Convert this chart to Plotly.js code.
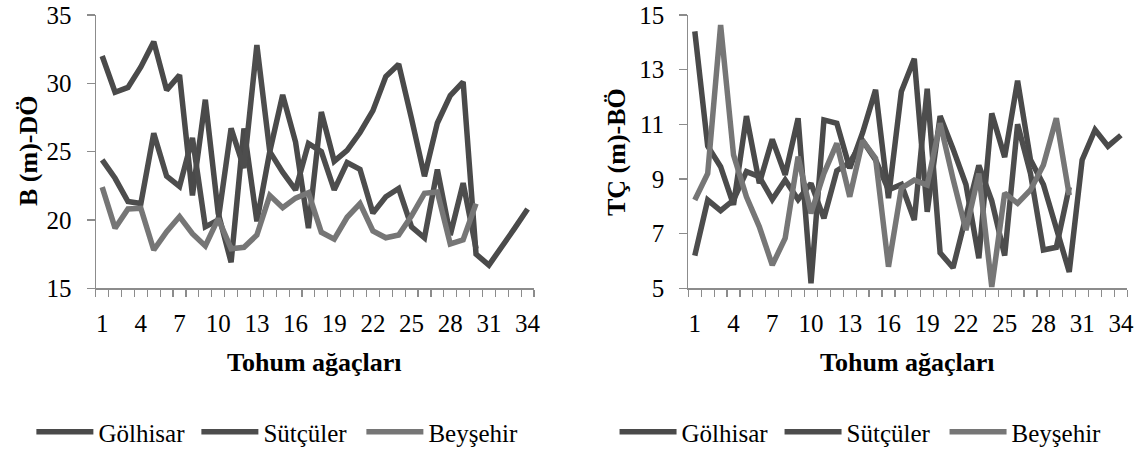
<!DOCTYPE html>
<html><head><meta charset="utf-8">
<script src="https://cdn.plot.ly/plotly-3.0.1.min.js"></script>
<style>html,body{margin:0;padding:0;background:#fff}#chart{width:1137px;height:450px}</style>
</head><body><div id="chart"></div>
<script>
const trees = [1,2,3,4,5,6,7,8,9,10,11,12,13,14,15,16,17,18,19,20,21,22,23,24,25,26,27,28,29,30,31,32,33,34];
const xTicks = [1,4,7,10,13,16,19,22,25,28,31,34];
const seriesNames = ["Gölhisar","Sütçüler","Beyşehir"];
const xTitle = "Tohum ağaçları";
const yTitles = ["B (m)-DÖ", "TÇ (m)-BÖ"];

const golhisarBD = [32,29.35,29.7,31.2,33.05,29.5,30.6,21.8,28.8,20.5,16.9,26.7,19.9,25.0,29.15,25.7,19.4,27.9,24.3,25.1,26.4,28.0,30.5,31.4,27.4,23.2,27.1,29.1,30.1,17.5,16.7,18.0,19.4,20.8];
const sutculerBD = [24.4,23.05,21.35,21.2,26.35,23.2,22.45,26.0,19.5,20.0,26.7,23.8,32.8,25.0,23.5,22.2,25.6,25.0,22.2,24.2,23.7,20.5,21.7,22.3,19.5,18.7,23.7,18.9,22.7,17.9];
const beysehirBD = [22.4,19.4,20.8,20.85,17.8,19.15,20.25,19.0,18.1,20.1,17.9,18.0,18.9,21.8,20.9,21.6,22.0,19.1,18.6,20.2,21.2,19.2,18.7,18.9,20.3,21.95,22.05,18.25,18.55,21.2];

const golhisarTC = [14.4,10.2,9.45,8.05,11.3,8.84,10.45,9.15,11.22,5.18,11.16,11.04,9.39,10.7,12.26,8.3,12.2,13.4,7.8,11.3,10.1,8.8,6.1,11.4,9.8,12.6,9.7,8.8,7.2,5.6,9.7,10.8,10.2,10.6];
const sutculerTC = [6.2,8.23,7.84,8.23,9.27,9.08,8.25,8.96,8.25,8.84,7.56,9.3,9.6,10.4,9.7,8.6,8.8,7.5,12.3,6.3,5.75,7.6,9.5,8.2,6.2,11.0,9.2,6.4,6.5,8.7];
const beysehirTC = [8.23,9.2,14.63,9.88,8.35,7.25,5.85,6.83,9.82,7.74,9.2,10.3,8.35,10.4,9.76,5.79,8.66,8.96,8.78,11.04,9.0,7.13,9.2,5.05,8.48,8.11,8.6,9.51,11.22,8.41];

const colors = ["#4a4a4a","#4d4d4d","#767676"];
const FONT = "'Liberation Serif', 'Times New Roman', serif";

function mk(y, i, xa, ya, leg) {
  return {x: trees.slice(0, y.length), y: y, name: seriesNames[i], type: "scatter", mode: "lines",
    xaxis: xa, yaxis: ya, legend: leg, cliponaxis: true,
    line: {color: colors[i], width: 5.5, shape: "linear"}};
}
const data = [
  mk(golhisarBD,0,"x","y","legend"), mk(sutculerBD,1,"x","y","legend"), mk(beysehirBD,2,"x","y","legend"),
  mk(golhisarTC,0,"x2","y2","legend2"), mk(sutculerTC,1,"x2","y2","legend2"), mk(beysehirTC,2,"x2","y2","legend2")
];

function xax(dom, anchor) {
  return {domain: dom, anchor: anchor, range: [0.5, 34.5], tickmode: "array", tickvals: xTicks, ticktext: xTicks.map(String),
    ticks: "", tickangle: 0, showline: true, linecolor: "#8c8c8c", linewidth: 1.2, showgrid: false, zeroline: false,
    ticklabelstandoff: 12, automargin: false,
    minor: {tickmode: "linear", tick0: 0.5, dtick: 1, ticks: "outside", ticklen: 7, tickcolor: "#8c8c8c", tickwidth: 1.2, showgrid: false},
    tickfont: {family: FONT, size: 25, color: "#000"}};
}
function yax(dom, anchor, rng, dt) {
  return {domain: dom, anchor: anchor, range: rng, dtick: dt, tick0: rng[0], ticks: "outside", ticklen: 8,
    tickcolor: "#8c8c8c", tickwidth: 1.2, showline: true, linecolor: "#8c8c8c", linewidth: 1.2,
    showgrid: false, zeroline: false, ticklabelstandoff: 10, automargin: false,
    tickfont: {family: FONT, size: 25, color: "#000"}};
}
const yDom = [0.3593, 0.9667];
const xDomL = [0.0842, 0.4697], xDomR = [0.6054, 0.9915];
const legendBase = {orientation: "h", yanchor: "middle", y: 0.04, xanchor: "left", itemwidth: 57,
  entrywidth: 93, entrywidthmode: "pixels", font: {family: FONT, size: 25, color: "#000"},
  bgcolor: "rgba(0,0,0,0)", borderwidth: 0, traceorder: "normal"};

const titleFont = {family: FONT, size: 26, color: "#000"};
const annotations = [
  {text: "<b>" + xTitle + "</b>", xref: "paper", yref: "paper", x: (xDomL[0]+xDomL[1])/2, y: 1 - 362/450, xanchor: "center", yanchor: "middle", showarrow: false, font: titleFont},
  {text: "<b>" + xTitle + "</b>", xref: "paper", yref: "paper", x: (xDomR[0]+xDomR[1])/2, y: 1 - 362/450, xanchor: "center", yanchor: "middle", showarrow: false, font: titleFont},
  {text: "<b>" + yTitles[0] + "</b>", xref: "paper", yref: "paper", x: 28/1137, y: 1 - 151/450, xanchor: "center", yanchor: "middle", textangle: -90, showarrow: false, font: titleFont},
  {text: "<b>" + yTitles[1] + "</b>", xref: "paper", yref: "paper", x: 617/1137, y: 1 - 152/450, xanchor: "center", yanchor: "middle", textangle: -90, showarrow: false, font: titleFont}
];

const layout = {
  width: 1137, height: 450, margin: {l: 0, r: 0, t: 0, b: 0, autoexpand: false},
  paper_bgcolor: "#fff", plot_bgcolor: "#fff", font: {family: FONT, size: 25, color: "#000"},
  xaxis: xax(xDomL, "y"),
  yaxis: yax(yDom, "x", [15, 35], 5),
  xaxis2: xax(xDomR, "y2"),
  yaxis2: yax(yDom, "x2", [5, 15], 2),
  legend: Object.assign({}, legendBase, {x: 0.0276}),
  legend2: Object.assign({}, legendBase, {x: 0.5405}),
  annotations: annotations,
  showlegend: true
};
Plotly.newPlot("chart", data, layout, {staticPlot: true});
</script></body></html>
